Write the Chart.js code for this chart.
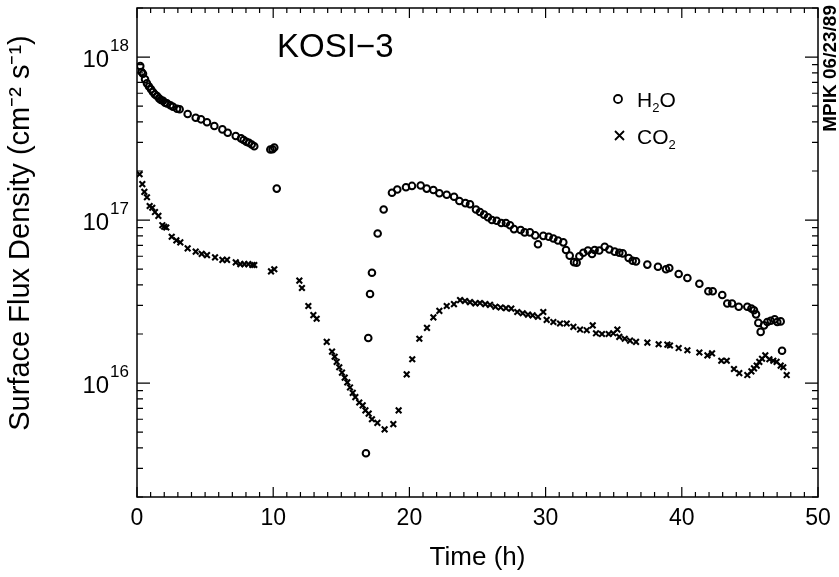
<!DOCTYPE html>
<html><head><meta charset="utf-8">
<script src="https://cdn.jsdelivr.net/npm/chart.js@4"></script>
<style>html,body{margin:0;padding:0;background:#fff}</style>
</head><body>
<canvas id="c" width="839" height="577"></canvas>
<script>
const h2oTime = [0.24,0.34,0.44,0.59,0.73,0.88,1.03,1.17,1.32,1.47,1.62,1.76,1.91,2.06,2.20,2.45,2.64,2.94,3.13,3.72,4.31,4.70,5.14,5.68,6.27,6.66,7.25,7.64,7.83,8.03,8.22,8.42,8.61,9.79,9.95,10.08,10.26,16.81,16.98,17.11,17.25,17.67,18.11,18.72,19.11,19.75,20.19,20.83,21.27,21.76,22.20,22.74,23.28,23.67,24.11,24.45,24.89,25.18,25.48,25.77,26.06,26.41,26.75,27.09,27.39,27.68,28.17,28.46,28.85,29.24,29.44,29.83,30.23,30.57,30.91,31.30,31.50,31.77,32.09,32.28,32.48,32.77,33.11,33.41,33.60,33.94,34.34,34.68,35.07,35.41,35.66,36.10,36.39,36.64,37.47,38.25,38.84,39.08,39.77,40.41,41.29,41.95,42.27,42.97,43.34,43.69,44.18,44.81,45.11,45.30,45.45,45.62,45.79,46.04,46.28,46.53,46.82,47.01,47.26,47.36];
const h2oFlux = [8.8e17,8.1e17,7.9e17,7.3e17,6.9e17,6.6e17,6.35e17,6.1e17,5.9e17,5.77e17,5.58e17,5.45e17,5.4e17,5.25e17,5.2e17,5.06e17,4.96e17,4.82e17,4.78e17,4.47e17,4.24e17,4.15e17,3.98e17,3.78e17,3.6e17,3.43e17,3.28e17,3.17e17,3.1e17,3.02e17,2.98e17,2.91e17,2.84e17,2.71e17,2.72e17,2.79e17,1.56e17,3.71e15,1.89e16,3.52e16,4.75e16,8.28e16,1.16e17,1.47e17,1.54e17,1.59e17,1.62e17,1.63e17,1.56e17,1.53e17,1.46e17,1.43e17,1.39e17,1.31e17,1.27e17,1.25e17,1.16e17,1.12e17,1.08e17,1.04e17,1.00e17,9.9e16,9.6e16,9.6e16,9.3e16,8.8e16,8.7e16,8.4e16,8.4e16,8.05e16,7.1e16,8.0e16,7.9e16,7.7e16,7.5e16,7.3e16,6.55e16,6.05e16,5.52e16,5.47e16,6.0e16,6.3e16,6.5e16,6.2e16,6.55e16,6.5e16,6.86e16,6.6e16,6.4e16,6.3e16,6.25e16,5.85e16,5.63e16,5.58e16,5.33e16,5.17e16,4.99e16,5.08e16,4.67e16,4.41e16,4.07e16,3.66e16,3.66e16,3.47e16,3.08e16,3.08e16,2.94e16,2.94e16,2.87e16,2.80e16,2.64e16,2.34e16,2.06e16,2.26e16,2.37e16,2.41e16,2.46e16,2.37e16,2.39e16,1.58e16];
const co2Time = [0.19,0.39,0.54,0.73,0.93,1.12,1.32,1.57,1.86,2.00,2.15,2.55,2.89,3.18,3.72,4.31,4.75,5.14,5.73,6.27,6.61,7.25,7.59,7.88,8.17,8.47,8.61,9.84,10.08,11.92,12.11,12.58,12.95,13.19,13.93,14.32,14.51,14.66,14.85,15.05,15.25,15.44,15.64,15.84,16.03,16.32,16.57,16.77,17.01,17.25,17.65,18.18,18.82,19.21,19.80,20.21,20.73,21.29,21.76,22.20,22.74,23.27,23.72,24.08,24.45,24.84,25.18,25.57,25.92,26.31,26.70,27.09,27.48,27.92,28.32,28.71,29.05,29.44,29.83,30.08,30.57,31.06,31.55,32.04,32.53,33.02,33.46,33.70,34.14,34.63,34.97,35.27,35.41,35.81,36.20,36.64,37.47,38.30,38.94,39.13,39.77,40.41,41.29,41.88,42.22,42.90,43.30,43.83,44.22,44.81,45.11,45.30,45.50,45.69,45.89,46.13,46.43,46.72,46.96,47.26,47.45,47.70];
const co2Flux = [1.91e17,1.66e17,1.49e17,1.38e17,1.22e17,1.19e17,1.12e17,1.06e17,9.3e16,9.1e16,9.0e16,7.9e16,7.5e16,7.3e16,6.7e16,6.4e16,6.2e16,6.1e16,5.9e16,5.7e16,5.7e16,5.5e16,5.37e16,5.37e16,5.37e16,5.3e16,5.3e16,4.84e16,4.99e16,4.25e16,3.83e16,2.97e16,2.61e16,2.48e16,1.79e16,1.56e16,1.45e16,1.35e16,1.25e16,1.16e16,1.08e16,1.01e16,9.4e15,8.7e15,8.2e15,7.6e15,7.3e15,6.8e15,6.5e15,6.0e15,5.7e15,5.2e15,5.6e15,6.8e15,1.13e16,1.40e16,1.87e16,2.18e16,2.53e16,2.77e16,2.97e16,3.05e16,3.23e16,3.19e16,3.14e16,3.08e16,3.1e16,3.05e16,3.02e16,2.94e16,2.91e16,2.88e16,2.86e16,2.73e16,2.68e16,2.63e16,2.60e16,2.55e16,2.73e16,2.44e16,2.37e16,2.32e16,2.32e16,2.21e16,2.13e16,2.11e16,2.26e16,2.02e16,2.00e16,2.00e16,2.02e16,2.13e16,1.92e16,1.87e16,1.82e16,1.79e16,1.77e16,1.73e16,1.72e16,1.70e16,1.64e16,1.59e16,1.54e16,1.48e16,1.52e16,1.37e16,1.37e16,1.22e16,1.15e16,1.12e16,1.18e16,1.23e16,1.28e16,1.35e16,1.41e16,1.48e16,1.40e16,1.37e16,1.35e16,1.28e16,1.25e16,1.12e16];
const xTickValues = [0,10,20,30,40,50];
const yDecades = [16,17,18];
const titleText = "KOSI\u22123";
const xTitle = "Time (h)";
const yTitle = "Surface Flux Density (cm\u207B\u00B2 s\u207B\u00B9)";
const stampText = "MPIK 06/23/89";

const FONT = "'Liberation Sans', Arial, sans-serif";

const framePlugin = {
  id: 'frame',
  afterDraw(chart) {
    const ctx = chart.ctx, a = chart.chartArea;
    const xs = chart.scales.x, ys = chart.scales.y;
    ctx.save();
    ctx.strokeStyle = '#000';
    ctx.lineWidth = 1.5;
    ctx.strokeRect(a.left, a.top, a.right - a.left, a.bottom - a.top);
    ctx.lineWidth = 1.2;
    ctx.beginPath();
    for (let t = 0; t <= 50; t++) {
      const px = xs.getPixelForValue(t);
      const len = (t % 10 === 0) ? 10 : 5;
      ctx.moveTo(px, a.bottom); ctx.lineTo(px, a.bottom - len);
      ctx.moveTo(px, a.top); ctx.lineTo(px, a.top + len);
    }
    for (let n = 15; n <= 18; n++) {
      for (let k = 1; k <= 9; k++) {
        const v = k * Math.pow(10, n);
        if (v < ys.min * 0.999 || v > ys.max * 1.001) continue;
        const py = ys.getPixelForValue(v);
        const len = (k === 1) ? 13 : 6;
        ctx.moveTo(a.left, py); ctx.lineTo(a.left + len, py);
        ctx.moveTo(a.right, py); ctx.lineTo(a.right - len, py);
      }
    }
    ctx.stroke();
    ctx.fillStyle = '#000';
    ctx.textBaseline = 'alphabetic';
    // y tick labels 10^n
    yDecades.forEach(n => {
      const py = ys.getPixelForValue(Math.pow(10, n));
      ctx.font = '17px ' + FONT;
      ctx.textAlign = 'right';
      const sup = String(n);
      const supW = ctx.measureText(sup).width;
      ctx.fillText(sup, 129, py - 6);
      ctx.font = '24px ' + FONT;
      ctx.fillText('10', 129 - supW - 1, py + 10);
    });
    // y axis title
    ctx.save();
    ctx.translate(29, 233);
    ctx.rotate(-Math.PI / 2);
    ctx.font = '29px ' + FONT;
    ctx.textAlign = 'center';
    ctx.fillText(yTitle, 0, 0);
    ctx.restore();
    // chart title
    ctx.font = '33px ' + FONT;
    ctx.textAlign = 'left';
    ctx.fillText(titleText, 277, 57);
    // legend
    ctx.lineWidth = 1.8;
    ctx.beginPath(); ctx.arc(618, 99, 4, 0, Math.PI * 2); ctx.stroke();
    ctx.beginPath();
    ctx.moveTo(615, 131); ctx.lineTo(624, 140);
    ctx.moveTo(624, 131); ctx.lineTo(615, 140);
    ctx.stroke();
    const drawChem = (parts, x, y) => {
      parts.forEach(p => {
        if (p.sub) { ctx.font = '13px ' + FONT; ctx.fillText(p.t, x, y + 5); }
        else { ctx.font = '21px ' + FONT; ctx.fillText(p.t, x, y); }
        x += ctx.measureText(p.t).width;
      });
    };
    drawChem([{t:'H'},{t:'2',sub:true},{t:'O'}], 637, 107);
    drawChem([{t:'CO'},{t:'2',sub:true}], 637, 144);
    // stamp
    ctx.save();
    ctx.translate(836, 5);
    ctx.rotate(-Math.PI / 2);
    ctx.font = 'bold 19px ' + FONT;
    ctx.textAlign = 'right';
    ctx.fillText(stampText, 0, 0);
    ctx.restore();
    ctx.restore();
  }
};

new Chart(document.getElementById('c'), {
  type: 'scatter',
  data: {
    datasets: [
      { label: 'H2O', data: h2oTime.map((t, i) => ({x: t, y: h2oFlux[i]})),
        pointStyle: 'circle', pointRadius: 3.3, borderWidth: 2,
        borderColor: '#000', backgroundColor: 'rgba(0,0,0,0)' },
      { label: 'CO2', data: co2Time.map((t, i) => ({x: t, y: co2Flux[i]})),
        pointStyle: 'crossRot', pointRadius: 4, borderWidth: 2.1,
        borderColor: '#000', backgroundColor: '#000' }
    ]
  },
  options: {
    responsive: false,
    animation: false,
    layout: { padding: { top: 8, right: 21, left: 0, bottom: 0 } },
    plugins: { legend: { display: false }, tooltip: { enabled: false } },
    scales: {
      x: {
        type: 'linear', min: 0, max: 50,
        grid: { display: false }, border: { display: false },
        afterBuildTicks: s => { s.ticks = xTickValues.map(v => ({value: v})); },
        ticks: { color: '#000', font: { family: FONT, size: 23 }, padding: 0, maxRotation: 0 },
        title: { display: true, text: xTitle, color: '#000', font: { family: FONT, size: 26 }, padding: { top: 6 } },
        afterFit: s => { s.height = 80; }
      },
      y: {
        type: 'logarithmic', min: 2e15, max: 2e18,
        grid: { display: false }, border: { display: false },
        ticks: { display: false },
        title: { display: false },
        afterFit: s => { s.width = 137; }
      }
    }
  },
  plugins: [framePlugin]
});
</script>
</body></html>
